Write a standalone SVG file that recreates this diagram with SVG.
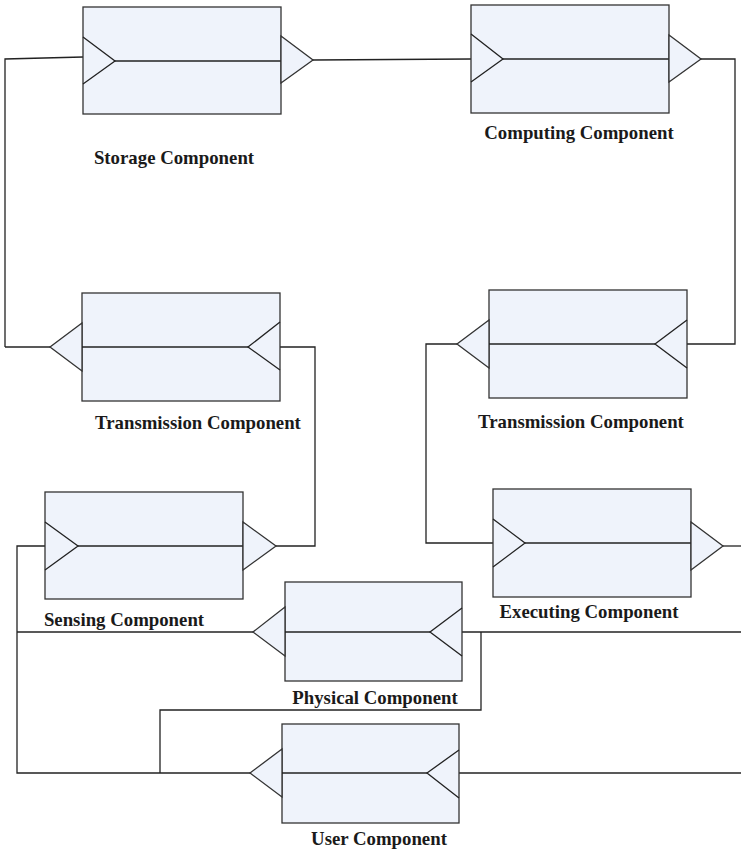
<svg xmlns="http://www.w3.org/2000/svg" width="741" height="852" viewBox="0 0 741 852">
<style>
.box{fill:#eff3fb;stroke:#333;stroke-width:1.3}
.tri{fill:#eff3fb;stroke:#333;stroke-width:1.3;stroke-linejoin:miter}
.mid{stroke:#222;stroke-width:1.3;fill:none}
.wire{stroke:#222;stroke-width:1.3;fill:none}
.lbl{font-family:"Liberation Serif","Times New Roman",serif;font-weight:bold;font-size:18.8px;fill:#1a1a1a;text-anchor:middle}
</style>
<rect width="741" height="852" fill="#fff"/>
<g id="connectors">
<polyline class="wire" points="5,347 5,59 83,57"/>
<line class="wire" x1="5" y1="347" x2="50" y2="347"/>
<line class="wire" x1="313" y1="60" x2="471" y2="59"/>
<polyline class="wire" points="701,59 735,59 735,344 687,344"/>
<polyline class="wire" points="280,347 315,347 315,546 276,546"/>
<polyline class="wire" points="457,344 426,344 426,543 493,543"/>
<polyline class="wire" points="45,546 17,546 17,773 250,773"/>
<line class="wire" x1="17" y1="632" x2="253" y2="632"/>
<line class="wire" x1="723" y1="546" x2="741" y2="546"/>
<line class="wire" x1="462" y1="632" x2="741" y2="632"/>
<polyline class="wire" points="481,632 481,710 160,710 160,773"/>
<line class="wire" x1="459" y1="773" x2="741" y2="773"/>
</g>
<g id="storage">
<rect class="box" x="83" y="7" width="198" height="107"/>
<polyline class="mid" points="83,37 115,61 83,84"/>
<line class="mid" x1="115" y1="61" x2="281" y2="61"/>
<polygon class="tri" points="281,36 313,60 281,83"/>
<text class="lbl" x="174" y="164">Storage Component</text>
</g>
<g id="computing">
<rect class="box" x="471" y="5" width="198" height="108"/>
<polyline class="mid" points="471,34 503,59 471,82"/>
<line class="mid" x1="503" y1="59" x2="669" y2="59"/>
<polygon class="tri" points="669,35 701,59 669,82"/>
<text class="lbl" x="579" y="139">Computing Component</text>
</g>
<g id="transmission-left">
<rect class="box" x="82" y="293" width="198" height="108"/>
<polygon class="tri" points="82,323 50,347 82,371"/>
<line class="mid" x1="82" y1="347" x2="248" y2="347"/>
<polyline class="mid" points="280,322 248,347 280,370"/>
<text class="lbl" x="198" y="429">Transmission Component</text>
</g>
<g id="transmission-right">
<rect class="box" x="489" y="290" width="198" height="108"/>
<polygon class="tri" points="489,320 457,344 489,368"/>
<line class="mid" x1="489" y1="344" x2="655" y2="344"/>
<polyline class="mid" points="687,320 655,344 687,368"/>
<text class="lbl" x="581" y="428">Transmission Component</text>
</g>
<g id="sensing">
<rect class="box" x="45" y="492" width="198" height="107"/>
<polyline class="mid" points="45,522 78,546 45,570"/>
<line class="mid" x1="78" y1="546" x2="243" y2="546"/>
<polygon class="tri" points="243,522 276,546 243,570"/>
<text class="lbl" x="124" y="626">Sensing Component</text>
</g>
<g id="executing">
<rect class="box" x="493" y="489" width="198" height="108"/>
<polyline class="mid" points="493,519 525,543 493,567"/>
<line class="mid" x1="525" y1="543" x2="691" y2="543"/>
<polygon class="tri" points="691,522 723,546 691,570"/>
<text class="lbl" x="589" y="618">Executing Component</text>
</g>
<g id="physical">
<rect class="box" x="285" y="582" width="177" height="99"/>
<polygon class="tri" points="285,607 253,632 285,656"/>
<line class="mid" x1="285" y1="632" x2="430" y2="632"/>
<polyline class="mid" points="462,608 430,632 462,656"/>
<text class="lbl" x="375" y="704">Physical Component</text>
</g>
<g id="user">
<rect class="box" x="282" y="724" width="177" height="99"/>
<polygon class="tri" points="282,749 250,773 282,797"/>
<line class="mid" x1="282" y1="773" x2="427" y2="773"/>
<polyline class="mid" points="459,750 427,773 459,798"/>
<text class="lbl" x="379" y="845">User Component</text>
</g>
</svg>
